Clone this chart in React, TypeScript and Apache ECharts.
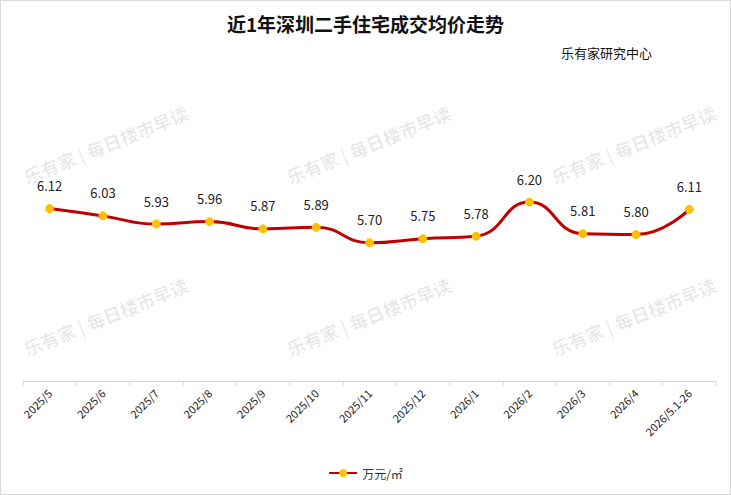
import { useEffect, useRef } from 'react'
import * as echarts from 'echarts'

const months = [
  '2025/5', '2025/6', '2025/7', '2025/8', '2025/9', '2025/10', '2025/11',
  '2025/12', '2026/1', '2026/2', '2026/3', '2026/4', '2026/5.1-26',
]
const prices = [6.12, 6.03, 5.93, 5.96, 5.87, 5.89, 5.7, 5.75, 5.78, 6.2, 5.81, 5.8, 6.11]

const font = '"Microsoft YaHei", "Noto Sans CJK SC", sans-serif'
const marks = [
  [20, 168], [283, 168], [548, 168],
  [20, 340], [283, 340], [548, 340],
]

export default function App() {
  const ref = useRef<HTMLDivElement>(null)

  useEffect(() => {
    if (!ref.current) return
    const chart = echarts.init(ref.current, undefined, { renderer: 'svg' })
    chart.setOption({
      animation: false,
      backgroundColor: '#fff',
      title: [
        {
          text: '近1年深圳二手住宅成交均价走势',
          left: 'center',
          top: 8,
          textStyle: { fontFamily: font, fontSize: 19, fontWeight: 'bold', color: '#111' },
        },
        {
          text: '乐有家研究中心',
          left: 555,
          top: 40,
          textStyle: { fontFamily: font, fontSize: 13, fontWeight: 'normal', color: '#111' },
        },
      ],
      graphic: marks.map(([x, y]) => ({
        type: 'text',
        x,
        y,
        rotation: (22 * Math.PI) / 180,
        silent: true,
        z: -1,
        style: {
          text: '乐有家 | 每日楼市早读',
          fill: 'rgba(0,0,0,0.09)',
          font: `bold 18px ${font}`,
        },
      })),
      legend: {
        bottom: 10,
        left: 'center',
        itemWidth: 28,
        itemHeight: 10,
        textStyle: { fontFamily: font, fontSize: 12, color: '#333' },
        data: ['万元/㎡'],
      },
      grid: { left: 22, right: 14, top: 136, bottom: 113 },
      xAxis: {
        type: 'category',
        data: months,
        boundaryGap: true,
        axisLine: { lineStyle: { color: '#d9d9d9' } },
        axisTick: { show: true, lineStyle: { color: '#d9d9d9' } },
        axisLabel: {
          rotate: 45,
          interval: 0,
          color: '#222',
          fontFamily: font,
          fontSize: 11,
          margin: 10,
        },
      },
      yAxis: { type: 'value', min: 4, max: 7, show: false, splitLine: { show: false } },
      series: [
        {
          name: '万元/㎡',
          type: 'line',
          data: prices,
          smooth: 0.5,
          symbol: 'circle',
          symbolSize: 8,
          lineStyle: { color: '#c00000', width: 3 },
          itemStyle: { color: '#ffc000', borderColor: '#ffc000' },
          label: {
            show: true,
            position: 'top',
            distance: 12,
            formatter: (p: any) => p.value.toFixed(2),
            color: '#222',
            fontFamily: font,
            fontSize: 13,
          },
        },
      ],
    })
    return () => chart.dispose()
  }, [])

  return (
    <div
      ref={ref}
      style={{
        position: 'fixed',
        left: 0,
        top: 0,
        width: 729,
        height: 493,
        border: '1px solid #d9d9d9',
      }}
    />
  )
}
